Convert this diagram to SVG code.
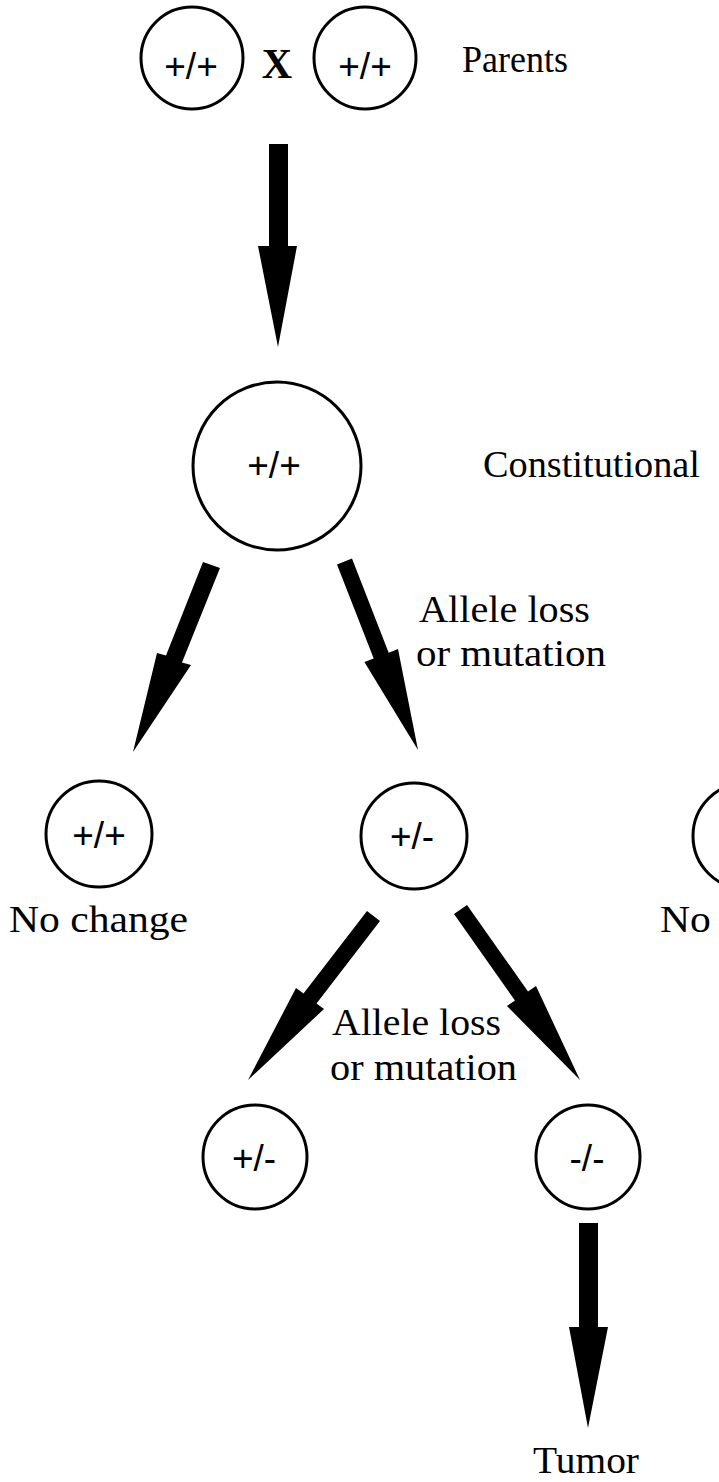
<svg xmlns="http://www.w3.org/2000/svg" width="719" height="1482" viewBox="0 0 719 1482">
<style>
.node circle{fill:none;stroke:#000;stroke-width:3}
.g{font-family:"Liberation Sans",Arial,sans-serif;font-size:37px;fill:#000;text-anchor:middle}
.lab{font-family:"Liberation Serif","Times New Roman",serif;font-size:38px;fill:#000}
.arr polygon{fill:#000;stroke:none}
</style>
<rect width="719" height="1482" fill="#fff"/>
<g id="parent1" class="node"><circle cx="192" cy="58" r="51"/><text class="g" x="191" y="79">+/+</text></g>
<g id="cross"><text x="277" y="78" font-family="Liberation Serif,serif" font-weight="bold" font-size="42" text-anchor="middle">X</text></g>
<g id="parent2" class="node"><circle cx="365" cy="58" r="51"/><text class="g" x="365" y="79">+/+</text></g>
<g id="label-parents"><text class="lab" x="462" y="72" textLength="106" lengthAdjust="spacingAndGlyphs">Parents</text></g>
<g id="constitutional" class="node"><circle cx="277" cy="466" r="84"/><text class="g" x="274" y="478">+/+</text></g>
<g id="label-constitutional"><text class="lab" x="483" y="477" textLength="217" lengthAdjust="spacingAndGlyphs">Constitutional</text></g>
<g id="label-allele1"><text class="lab" x="419" y="622" textLength="171" lengthAdjust="spacingAndGlyphs">Allele loss</text><text class="lab" x="416" y="666" textLength="190" lengthAdjust="spacingAndGlyphs">or mutation</text></g>
<g id="nochange-left" class="node"><circle cx="99" cy="834" r="53"/><text class="g" x="99" y="848">+/+</text></g>
<g id="label-nochange1"><text class="lab" x="9" y="932" textLength="179" lengthAdjust="spacingAndGlyphs">No change</text></g>
<g id="het" class="node"><circle cx="414" cy="836" r="53"/><text class="g" x="412" y="849">+/-</text></g>
<g id="right-partial" class="node"><circle cx="746" cy="836" r="53"/></g>
<g id="label-nochange2"><text class="lab" x="660" y="932" textLength="179" lengthAdjust="spacingAndGlyphs">No change</text></g>
<g id="label-allele2"><text class="lab" x="332" y="1035" textLength="169" lengthAdjust="spacingAndGlyphs">Allele loss</text><text class="lab" x="330" y="1080" textLength="187" lengthAdjust="spacingAndGlyphs">or mutation</text></g>
<g id="het2" class="node"><circle cx="255" cy="1157" r="52"/><text class="g" x="254" y="1171">+/-</text></g>
<g id="homo" class="node"><circle cx="588" cy="1157" r="52"/><text class="g" x="587" y="1171">-/-</text></g>
<g id="label-tumor"><text class="lab" x="533" y="1473" textLength="106" lengthAdjust="spacingAndGlyphs">Tumor</text></g>
<g id="connectors" class="arr">
<polygon points="269,144 288,144 288,246 297,246 278,347 258,246 269,246"/>
<polygon points="203,562 220,568 182,662.5 191,665 133,752 157,653 166,655.5"/>
<polygon points="337,564.4 352,558.6 388.7,652.7 398,649 418,750 364.4,662.1 373.7,658.5"/>
<polygon points="367,911 380,921 316.5,1003.5 324,1009 248,1080 296,988 303.5,993.5"/>
<polygon points="454,914 467,905 528,991.4 536,986 580,1080 507,1006 515,1000.6"/>
<polygon points="579,1223 598,1223 598,1327 608,1327 588,1428 569,1327 579,1327"/>
</g>
</svg>
